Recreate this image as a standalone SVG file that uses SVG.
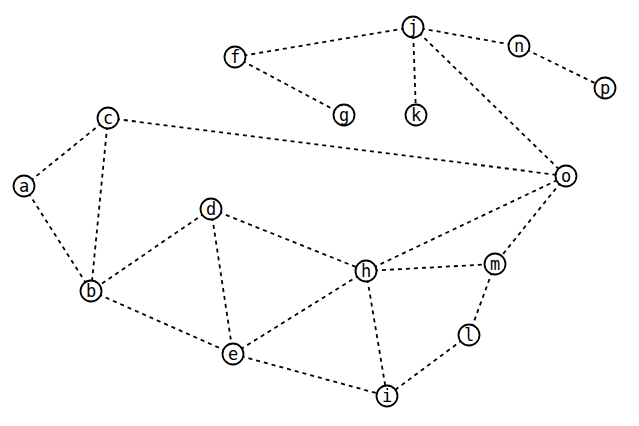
<svg xmlns="http://www.w3.org/2000/svg" width="639" height="426" viewBox="0 0 639 426">
<style>
.e{stroke:#000;stroke-width:1.8;stroke-dasharray:4 4;fill:none}
.n circle{fill:#fff;stroke:#000;stroke-width:1.8}
.n text{font-family:"DejaVu Sans Mono",monospace;font-size:17px;text-anchor:middle;dominant-baseline:central;fill:#000}
</style>
<rect width="639" height="426" fill="#fff"/>
<g id="edges">
<line class="e" x1="413" y1="27" x2="235" y2="57"/>
<line class="e" x1="413" y1="27" x2="519" y2="46"/>
<line class="e" x1="519" y1="46" x2="605" y2="88"/>
<line class="e" x1="413" y1="27" x2="416" y2="115"/>
<line class="e" x1="413" y1="27" x2="566" y2="176"/>
<line class="e" x1="235" y1="57" x2="344" y2="115"/>
<line class="e" x1="108" y1="118" x2="566" y2="176"/>
<line class="e" x1="108" y1="118" x2="24" y2="186"/>
<line class="e" x1="108" y1="118" x2="91" y2="291"/>
<line class="e" x1="24" y1="186" x2="91" y2="291"/>
<line class="e" x1="211" y1="209" x2="91" y2="291"/>
<line class="e" x1="211" y1="209" x2="233" y2="354"/>
<line class="e" x1="211" y1="209" x2="366" y2="271"/>
<line class="e" x1="366" y1="271" x2="566" y2="176"/>
<line class="e" x1="366" y1="271" x2="495" y2="264"/>
<line class="e" x1="366" y1="271" x2="233" y2="354"/>
<line class="e" x1="366" y1="271" x2="387" y2="396"/>
<line class="e" x1="566" y1="176" x2="495" y2="264"/>
<line class="e" x1="495" y1="264" x2="469" y2="335"/>
<line class="e" x1="469" y1="335" x2="387" y2="396"/>
<line class="e" x1="91" y1="291" x2="233" y2="354"/>
<line class="e" x1="233" y1="354" x2="387" y2="396"/>
</g>
<g id="j" class="n"><circle cx="413" cy="27" r="10.5"/><text x="413" y="27">j</text></g>
<g id="n" class="n"><circle cx="519" cy="46" r="10.5"/><text x="519" y="46">n</text></g>
<g id="p" class="n"><circle cx="605" cy="88" r="10.5"/><text x="605" y="88">p</text></g>
<g id="f" class="n"><circle cx="235" cy="57" r="10.5"/><text x="235" y="57">f</text></g>
<g id="g" class="n"><circle cx="344" cy="115" r="10.5"/><text x="344" y="115">g</text></g>
<g id="k" class="n"><circle cx="416" cy="115" r="10.5"/><text x="416" y="115">k</text></g>
<g id="c" class="n"><circle cx="108" cy="118" r="10.5"/><text x="108" y="118">c</text></g>
<g id="o" class="n"><circle cx="566" cy="176" r="10.5"/><text x="566" y="176">o</text></g>
<g id="a" class="n"><circle cx="24" cy="186" r="10.5"/><text x="24" y="186">a</text></g>
<g id="d" class="n"><circle cx="211" cy="209" r="10.5"/><text x="211" y="209">d</text></g>
<g id="h" class="n"><circle cx="366" cy="271" r="10.5"/><text x="366" y="271">h</text></g>
<g id="m" class="n"><circle cx="495" cy="264" r="10.5"/><text x="495" y="264">m</text></g>
<g id="b" class="n"><circle cx="91" cy="291" r="10.5"/><text x="91" y="291">b</text></g>
<g id="l" class="n"><circle cx="469" cy="335" r="10.5"/><text x="469" y="335">l</text></g>
<g id="e" class="n"><circle cx="233" cy="354" r="10.5"/><text x="233" y="354">e</text></g>
<g id="i" class="n"><circle cx="387" cy="396" r="10.5"/><text x="387" y="396">i</text></g>
</svg>
